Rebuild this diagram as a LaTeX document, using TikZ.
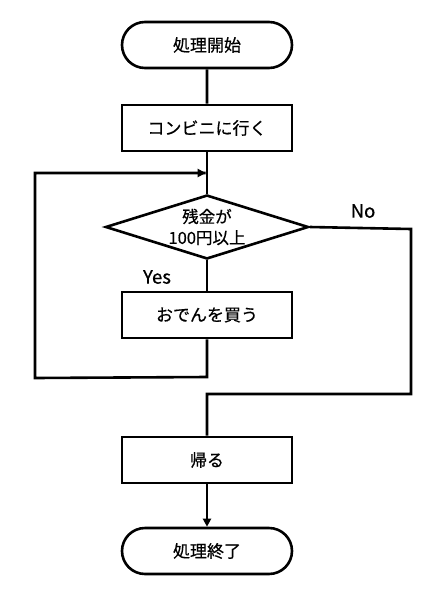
\documentclass[tikz,border=0pt]{standalone}
\usepackage{fontspec}
\setmainfont{Noto Sans CJK JP}[FakeBold=0.6]
\usetikzlibrary{shapes.geometric,shapes.misc,arrows.meta}
\begin{document}
\begin{tikzpicture}[x=1pt,y=-1pt,
  base/.style={draw=black,line width=2.6pt,font=\fontsize{17}{20}\selectfont,inner sep=0pt},
  term/.style={base,rounded rectangle,minimum width=170pt,minimum height=46pt},
  proc/.style={base,rectangle,minimum width=170pt,minimum height=46pt},
  decision/.style={base,diamond,aspect=3.2,minimum width=203pt,minimum height=64pt,align=center,font=\fontsize{16.5}{21}\selectfont},
  conn/.style={line width=2.6pt,line join=miter},
  arr/.style={conn,-{Triangle[length=8pt,width=8pt]}},
  lbl/.style={font=\fontsize{18.5}{20}\selectfont,inner sep=0pt}]
\useasboundingbox (0,0) rectangle (435,600);
\node[term] (start) at (207,45) {処理開始};
\node[proc] (conv) at (207,128) {コンビニに行く};
\node[decision] (dec) at (207,227) {残金が\\100円以上};
\node[proc] (oden) at (207,315) {おでんを買う};
\node[proc] (home) at (207,460) {帰る};
\node[term] (end) at (207,551) {処理終了};
\node[lbl] (no) at (363,211) {No};
\node[lbl] (yes) at (157,277) {Yes};
\coordinate (j) at (207,173);
\coordinate (la) at (35,173);
\coordinate (lb) at (35,378);
\coordinate (lc) at (207,377);
\coordinate (ra) at (411,229);
\coordinate (rb) at (411,394);
\coordinate (rc) at (207,394);
\draw[conn] (start) -- (conv);
\draw[conn] (conv) -- (dec);
\draw[conn] (dec) -- (oden);
\draw[conn] (oden.south) -- (lc) -- (lb) -- (la) -- ([xshift=-1.3pt]j);
\draw[arr] (la) -- ([xshift=-1.3pt]j);
\draw[conn] (dec.east) -- (ra) -- (rb) -- (rc) -- (home.north);
\draw[arr] (home) -- (end);
\end{tikzpicture}
\end{document}
